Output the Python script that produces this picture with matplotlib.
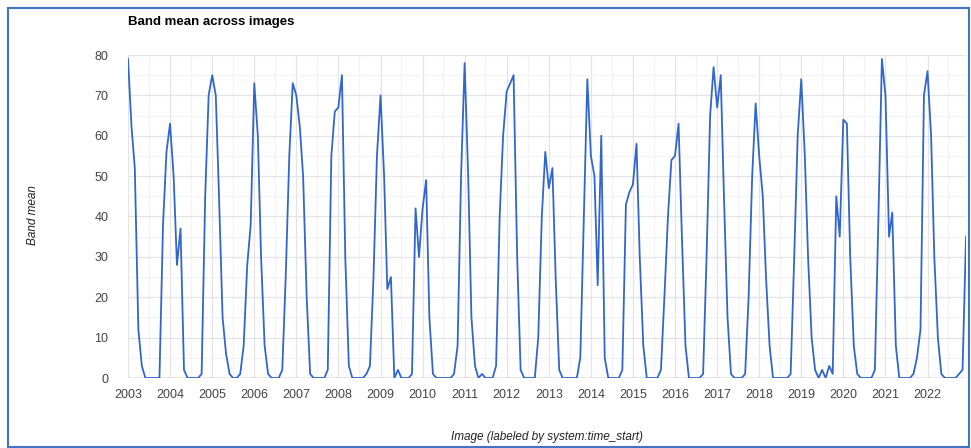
"""
Band mean across images - monthly series 2003-2022, Earth Engine style chart.
"""

import matplotlib
matplotlib.use("Agg")
import matplotlib.dates as mdates
import matplotlib.patches as mpatches
import matplotlib.pyplot as plt
import pandas as pd

plt.rcParams["font.family"] = ["Liberation Sans", "DejaVu Sans"]

# monthly values, one row per year (Jan..Dec)
band_mean = [
    79, 62, 52, 12, 3, 0, 0, 0, 0, 0, 38, 56,        # 2003
    63, 50, 28, 37, 2, 0, 0, 0, 0, 1, 45, 70,        # 2004
    75, 70, 45, 15, 6, 1, 0, 0, 1, 8, 28, 38,        # 2005
    73, 60, 30, 8, 1, 0, 0, 0, 2, 25, 55, 73,        # 2006
    70, 62, 50, 20, 1, 0, 0, 0, 0, 2, 55, 66,        # 2007
    67, 75, 30, 3, 0, 0, 0, 0, 1, 3, 25, 55,         # 2008
    70, 50, 22, 25, 0, 2, 0, 0, 0, 1, 42, 30,        # 2009
    42, 49, 15, 1, 0, 0, 0, 0, 0, 1, 8, 50,          # 2010
    78, 50, 15, 3, 0, 1, 0, 0, 0, 3, 40, 60,         # 2011
    71, 73, 75, 30, 2, 0, 0, 0, 0, 10, 40, 56,       # 2012
    47, 52, 25, 2, 0, 0, 0, 0, 0, 5, 40, 74,         # 2013
    55, 50, 23, 60, 5, 0, 0, 0, 0, 2, 43, 46,        # 2014
    48, 58, 30, 8, 0, 0, 0, 0, 2, 20, 40, 54,        # 2015
    55, 63, 35, 8, 0, 0, 0, 0, 1, 30, 65, 77,        # 2016
    67, 75, 45, 15, 1, 0, 0, 0, 1, 20, 50, 68,       # 2017
    55, 45, 25, 8, 0, 0, 0, 0, 0, 1, 30, 60,         # 2018
    74, 55, 30, 10, 2, 0, 2, 0, 3, 1, 45, 35,        # 2019
    64, 63, 30, 8, 1, 0, 0, 0, 0, 2, 40, 79,         # 2020
    70, 35, 41, 8, 0, 0, 0, 0, 1, 5, 12, 70,         # 2021
    76, 60, 30, 10, 1, 0, 0, 0, 0, 1, 2, 35,         # 2022
]
dates = pd.date_range("2003-01-01", periods=len(band_mean), freq="MS")

y_ticks = [0, 10, 20, 30, 40, 50, 60, 70, 80]

W, H = 971, 448
fig = plt.figure(figsize=(W / 100, H / 100), dpi=100)

left, right, top, bottom = 128, 966, 55, 378
ax = fig.add_axes([left / W, 1 - bottom / H, (right - left) / W, (bottom - top) / H])

# grid: major and faint minor lines, Google Charts look
ax.set_ylim(0, 80)
ax.set_yticks(y_ticks)
ax.set_yticks(range(5, 80, 10), minor=True)
ax.set_xlim(dates[0], dates[-1])
ax.xaxis.set_major_locator(mdates.YearLocator())
ax.xaxis.set_major_formatter(mdates.DateFormatter("%Y"))
ax.xaxis.set_minor_locator(mdates.MonthLocator(bymonth=[7]))
ax.grid(True, which="major", color="#e4e4e4", linewidth=0.9)
ax.grid(True, which="minor", color="#f3f3f3", linewidth=0.8)
ax.set_axisbelow(True)

for s in ax.spines.values():
    s.set_visible(False)
ax.axhline(0, color="#9a9a9a", linewidth=1.0, zorder=2)

ax.plot(dates, band_mean, color="#3366cc", linewidth=1.3, zorder=3)

ax.tick_params(which="both", length=0)
ax.tick_params(axis="y", pad=14, labelsize=9, labelcolor="#444444")
ax.tick_params(axis="x", pad=8, labelsize=9, labelcolor="#444444")

fig.text((left + right) / 2 / W, 1 - 437 / H, "Image (labeled by system:time_start)",
         fontsize=8.5, style="italic", color="#222222", ha="center", va="center")
fig.text(33 / W, 1 - 215 / H, "Band mean", rotation=90, fontsize=8.5,
         style="italic", color="#222222", ha="center", va="center")
fig.text(left / W, 1 - 22 / H, "Band mean across images", fontsize=9.5,
         fontweight="bold", color="#000000", ha="left", va="center")

# blue frame around the picture
frame = mpatches.Rectangle((8 / W, 1 - 447 / H), 961 / W, 439 / H,
                           transform=fig.transFigure, fill=False,
                           edgecolor="#4472c4", linewidth=1.5)
fig.patches.append(frame)

fig.savefig("out.png", dpi=100)
